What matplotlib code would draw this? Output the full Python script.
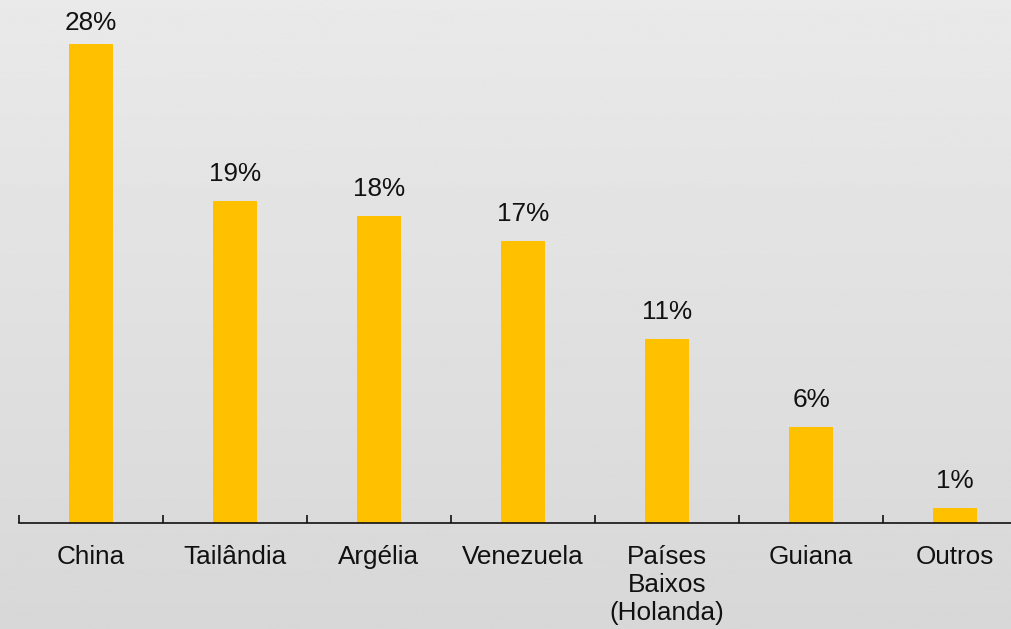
import matplotlib
matplotlib.use("Agg")
import matplotlib.pyplot as plt
import numpy as np

categories = ["China", "Tailândia", "Argélia", "Venezuela",
              "Países\nBaixos\n(Holanda)", "Guiana", "Outros"]
shares = [28.4, 19.1, 18.2, 16.7, 10.9, 5.7, 0.9]
share_labels = ["28%", "19%", "18%", "17%", "11%", "6%", "1%"]

plt.rcParams["font.family"] = ["Liberation Sans", "DejaVu Sans"]

W, H = 1012, 629
fig = plt.figure(figsize=(W / 100, H / 100), dpi=100)

# soft vertical gradient behind everything
bg = fig.add_axes([0, 0, 1, 1], zorder=0)
grad = np.linspace(0.915, 0.845, 256).reshape(-1, 1)
bg.imshow(grad, aspect="auto", cmap="gray", vmin=0, vmax=1,
          extent=[0, 1, 0, 1], origin="upper")
bg.set_axis_off()

base_y = 523
left = 19
ax = fig.add_axes([left / W, (H - base_y) / H, 1008 / W, base_y / H], zorder=1)
ax.patch.set_alpha(0)

x = np.arange(len(categories))
ax.bar(x, shares, width=0.31, color="#FFC000")

ax.set_xlim(-0.5, len(categories) - 0.5)
ax.set_ylim(0, 31.0)

for xi, v, lab in zip(x, shares, share_labels):
    ax.text(xi, min(v + 0.9, 28.9), lab, ha="center", va="bottom",
            fontsize=18.8, color="#111111")

for s in ["left", "right", "top"]:
    ax.spines[s].set_visible(False)
ax.spines["bottom"].set_linewidth(1.2)
ax.spines["bottom"].set_color("#111111")
ax.set_yticks([])

ax.set_xticks(x)
ax.set_xticklabels(categories, fontsize=18.8, color="#111111", linespacing=1.2)
ax.tick_params(axis="x", which="major", length=0, pad=16)
ax.set_xticks(np.arange(-0.5, len(categories), 1.0), minor=True)
ax.tick_params(axis="x", which="minor", direction="in", length=5.5,
               width=1.2, color="#111111")

fig.savefig("out.png", dpi=100)
